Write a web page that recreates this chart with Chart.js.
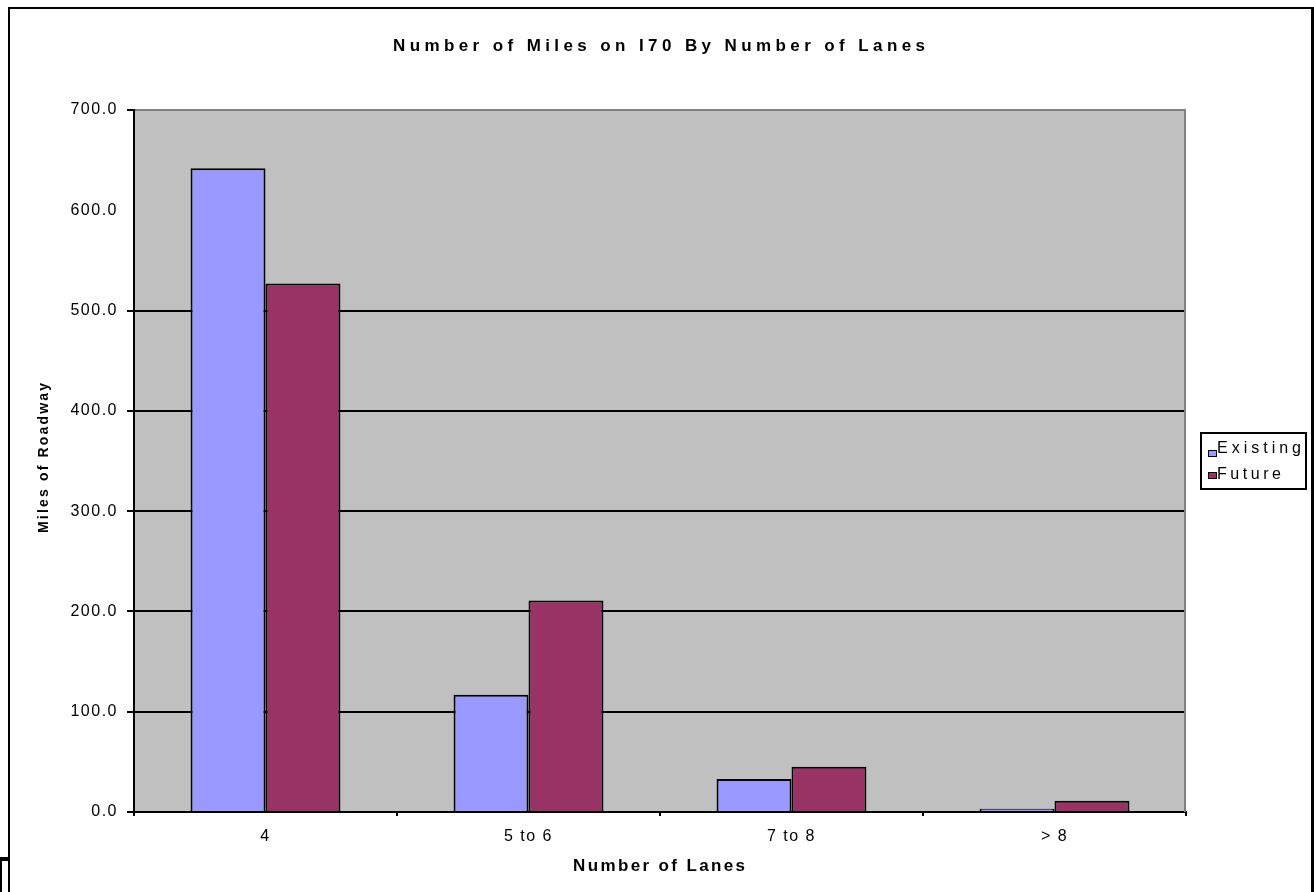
<!DOCTYPE html>
<html>
<head>
<meta charset="utf-8">
<script src="https://cdn.jsdelivr.net/npm/chart.js@4/dist/chart.umd.min.js"></script>
<style>
  html, body { margin: 0; padding: 0; background: #fff; overflow: hidden; }
  #wrap { position: relative; width: 1314px; height: 892px; }
</style>
</head>
<body>
<div id="wrap"><canvas id="c"></canvas></div>
<script>
// Text
const chartTitle = 'Number of Miles on I70 By Number of Lanes';
const xAxisTitle = 'Number of Lanes';
const yAxisTitle = 'Miles of Roadway';

// Categories and series
const laneCategories = ['4', '5 to 6', '7 to 8', '> 8'];
const seriesNames = ['Existing', 'Future'];
const existingMiles = [642, 117, 33, 3.3];
const futureMiles = [527, 211, 45, 11.3];

// Value axis ticks
const yTickValues = [0, 100, 200, 300, 400, 500, 600, 700];

const FONT = 'Arial, "Liberation Sans", sans-serif';
const seriesColors = ['#9999FF', '#993366'];

// Draw text stretched to a given width using canvas letter spacing
function spacedText(ctx, text, x, y, width, font) {
  ctx.font = font;
  ctx.letterSpacing = '0px';
  const w = ctx.measureText(text).width;
  const sp = (width - w) / Math.max(1, text.length - 1);
  ctx.letterSpacing = sp + 'px';
  ctx.textAlign = 'left';
  ctx.fillText(text, x - width / 2, y);
  ctx.letterSpacing = '0px';
}

const decorations = {
  id: 'decorations',
  beforeDraw(chart) {
    const { ctx, chartArea: a } = chart;
    ctx.save();
    ctx.fillStyle = '#C0C0C0';
    ctx.fillRect(a.left, a.top, a.right - a.left, a.bottom - a.top);
    ctx.restore();
    // spacing for the axis tick labels
    ctx.letterSpacing = '1.5px';
  },
  beforeDatasetsDraw(chart) {
    const { ctx, chartArea: a } = chart;
    ctx.letterSpacing = '0px';
    ctx.save();
    ctx.fillStyle = '#808080';
    ctx.fillRect(a.right - 2, a.top, 2, a.bottom - a.top);
    ctx.restore();
  },
  afterDraw(chart) {
    const { ctx } = chart;
    ctx.save();
    ctx.fillStyle = '#000';
    // outer frame
    ctx.fillRect(8, 7, 1306, 2);
    ctx.fillRect(8, 7, 2, 885);
    ctx.fillRect(1311, 7, 3, 885);
    // corner piece bottom-left
    ctx.fillRect(0, 857, 9, 4);
    ctx.fillRect(0, 857, 2, 35);

    ctx.textBaseline = 'alphabetic';
    // chart title
    spacedText(ctx, chartTitle, 659, 51, 532, 'bold 17px ' + FONT);
    // x axis title
    spacedText(ctx, xAxisTitle, 659, 871, 172, 'bold 17px ' + FONT);
    // y axis title
    ctx.save();
    ctx.translate(48, 458);
    ctx.rotate(-Math.PI / 2);
    spacedText(ctx, yAxisTitle, 0, 0, 150, 'bold 14px ' + FONT);
    ctx.restore();

    // legend
    ctx.lineWidth = 2;
    ctx.strokeStyle = '#000';
    ctx.strokeRect(1201, 433, 105, 56);
    const rows = [{ sy: 450, ty: 453, w: 84 }, { sy: 472, ty: 479, w: 64 }];
    chart.data.datasets.forEach((ds, i) => {
      const r = rows[i];
      ctx.fillStyle = ds.backgroundColor;
      ctx.fillRect(1208, r.sy, 9, 7);
      ctx.lineWidth = 1;
      ctx.strokeRect(1208.5, r.sy + 0.5, 8, 6);
      ctx.fillStyle = '#000';
      spacedText(ctx, ds.label, 1217 + r.w / 2, r.ty, r.w, '16px ' + FONT);
    });
    ctx.restore();
  }
};

new Chart(document.getElementById('c'), {
  type: 'bar',
  data: {
    labels: laneCategories,
    datasets: [
      {
        label: seriesNames[0],
        data: existingMiles,
        backgroundColor: seriesColors[0],
        borderColor: '#000',
        borderWidth: 2,
        categoryPercentage: 0.57,
        barPercentage: 1
      },
      {
        label: seriesNames[1],
        data: futureMiles,
        backgroundColor: seriesColors[1],
        borderColor: '#000',
        borderWidth: 2,
        categoryPercentage: 0.57,
        barPercentage: 1
      }
    ]
  },
  options: {
    responsive: true,
    maintainAspectRatio: false,
    animation: false,
    events: [],
    layout: { padding: { left: 0, right: 128, top: 110, bottom: 0 } },
    plugins: {
      legend: { display: false },
      title: { display: false },
      tooltip: { enabled: false }
    },
    scales: {
      x: {
        type: 'category',
        offset: true,
        afterFit(scale) { scale.height = 80; },
        grid: {
          offset: true,
          drawOnChartArea: false,
          drawTicks: true,
          tickLength: 4,
          color: '#000',
          lineWidth: 2
        },
        border: { color: '#000', width: 2 },
        ticks: { color: '#000', padding: 11, font: { family: FONT, size: 16 } }
      },
      y: {
        min: yTickValues[0],
        max: yTickValues[yTickValues.length - 1],
        afterFit(scale) { scale.width = 134; },
        afterBuildTicks(scale) { scale.ticks = yTickValues.map(v => ({ value: v })); },
        grid: {
          lineWidth: 2,
          tickLength: 7,
          color(c) {
            const v = c.tick && c.tick.value;
            if (v === 700) return '#808080';
            if (v === 600) return 'rgba(0,0,0,0)';
            return '#000';
          },
          tickColor(c) {
            const v = c.tick && c.tick.value;
            return v === 600 ? 'rgba(0,0,0,0)' : '#000';
          }
        },
        border: { color: '#000', width: 2 },
        ticks: {
          color: '#000',
          padding: 9,
          font: { family: FONT, size: 16 },
          callback: v => Number(v).toFixed(1)
        }
      }
    }
  },
  plugins: [decorations]
});
</script>
</body>
</html>
